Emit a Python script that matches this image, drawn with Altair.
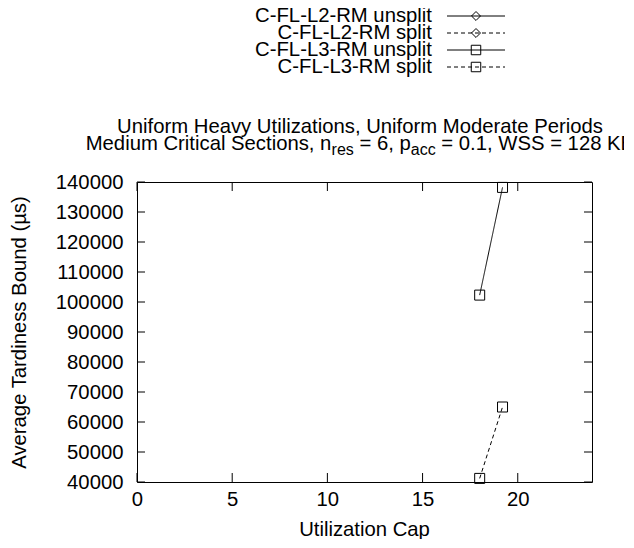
import altair as alt
import pandas as pd

# ---------------- data ----------------
series_names = ["C-FL-L2-RM unsplit", "C-FL-L2-RM split", "C-FL-L3-RM unsplit", "C-FL-L3-RM split"]
series_shapes = ["diamond", "diamond", "square", "square"]
series_dashes = [[1, 0], [4, 3], [1, 0], [4, 3]]

cap_l2 = []
l2_unsplit = []
l2_split = []
cap_l3 = [18.0, 19.2]
l3_unsplit = [102300, 138200]
l3_split = [41200, 65000]

x_ticks = [0, 5, 10, 15, 20]
y_ticks = [40000, 50000, 60000, 70000, 80000, 90000, 100000, 110000, 120000, 130000, 140000]

title_line1 = "Uniform Heavy Utilizations, Uniform Moderate Periods"
title_line2_parts = [("Medium Critical Sections, n", False), ("res", True), (" = 6, p", False),
                     ("acc", True), (" = 0.1, WSS = 128 KB", False)]

# ---------------- layout / style ----------------
W, H = 455, 300
FONT = "Liberation Sans, Arial, Helvetica, sans-serif"
FS = 20.3
SUB_FS = 16

rows = []
for name, caps, vals in [(series_names[0], cap_l2, l2_unsplit), (series_names[1], cap_l2, l2_split),
                         (series_names[2], cap_l3, l3_unsplit), (series_names[3], cap_l3, l3_split)]:
    for c, v in zip(caps, vals):
        rows.append({"series": name, "cap": c, "bound": v})
df = pd.DataFrame(rows)

x_scale = alt.Scale(domain=[0, 23.9], nice=False, zero=False)
y_scale = alt.Scale(domain=[40000, 140000], nice=False, zero=False)
x_axis = alt.Axis(values=x_ticks, ticks=False, domain=False, grid=False, labelPadding=7, format="d",
                  title="Utilization Cap", titleX=227, titleY=47, titleBaseline="middle",
                  titleAlign="center", labelFlush=False)
y_axis = alt.Axis(values=y_ticks, ticks=False, domain=False, grid=False, labelPadding=14, format="d",
                  title="Average Tardiness Bound (µs)", titleX=-118, titleY=150, titleAngle=270,
                  titleBaseline="middle", titleAlign="center", labelFlush=False)


def X(field="cap"):
    return alt.X(f"{field}:Q", scale=x_scale, axis=x_axis)


def Y(field="bound"):
    return alt.Y(f"{field}:Q", scale=y_scale, axis=y_axis)


dash_scale = alt.Scale(domain=series_names, range=series_dashes)
shape_scale = alt.Scale(domain=series_names, range=series_shapes)

lines = alt.Chart(df).mark_line(color="black", strokeWidth=1).encode(
    x=X(), y=Y(),
    strokeDash=alt.StrokeDash("series:N", scale=dash_scale, legend=None),
    detail="series:N",
)
points = alt.Chart(df).mark_point(filled=False, color="black", size=100, strokeWidth=1, opacity=1).encode(
    x=X(), y=Y(),
    shape=alt.Shape("series:N", scale=shape_scale, legend=None),
)

ydf = pd.DataFrame({"bound": y_ticks})
xdf = pd.DataFrame({"cap": x_ticks})
tick_l = alt.Chart(ydf).mark_rule(color="black", strokeWidth=1).encode(y=Y(), x=alt.value(0), x2=alt.value(8))
tick_r = alt.Chart(ydf).mark_rule(color="black", strokeWidth=1).encode(y=Y(), x=alt.value(W - 8), x2=alt.value(W))
tick_b = alt.Chart(xdf).mark_rule(color="black", strokeWidth=1).encode(x=X(), y=alt.value(H - 9), y2=alt.value(H))
tick_t = alt.Chart(xdf).mark_rule(color="black", strokeWidth=1).encode(x=X(), y=alt.value(0), y2=alt.value(9))

layers = [tick_l, tick_r, tick_b, tick_t, lines, points]

# ---------------- legend (drawn above plot) ----------------
leg_text_x = 295
leg_line_x1, leg_line_x2, leg_mark_x = 310, 368, 339
leg_y0, leg_dy = -166, 17
for i, name in enumerate(series_names):
    yy = leg_y0 + i * leg_dy
    one = pd.DataFrame({"t": [name]})
    layers.append(alt.Chart(one).mark_text(align="right", baseline="middle", font=FONT, fontSize=FS,
                                           color="black").encode(x=alt.value(leg_text_x), y=alt.value(yy), text="t:N"))
    layers.append(alt.Chart(one).mark_rule(color="black", strokeWidth=1, strokeDash=series_dashes[i]).encode(
        x=alt.value(leg_line_x1), x2=alt.value(leg_line_x2), y=alt.value(yy)))
    layers.append(alt.Chart(one).mark_point(filled=False, stroke="black", size=90 if series_shapes[i] == "square" else 80,
                                            strokeWidth=1, opacity=1, shape=series_shapes[i]).encode(
        x=alt.value(leg_mark_x), y=alt.value(yy)))

# ---------------- title ----------------
title_cx = 223
t1_y, t2_y = -55, -38
layers.append(alt.Chart(pd.DataFrame({"t": [title_line1]})).mark_text(
    align="center", baseline="middle", font=FONT, fontSize=FS, color="black").encode(
    x=alt.value(title_cx), y=alt.value(t1_y), text="t:N"))

AW = {'M': 833, 'e': 556, 'd': 556, 'i': 222, 'u': 556, 'm': 833, ' ': 278, 'C': 722, 'r': 333, 't': 278,
      'c': 500, 'a': 556, 'l': 222, 'S': 667, 'o': 556, 'n': 556, 's': 500, ',': 278, '=': 584, '6': 556,
      'p': 556, '0': 556, '.': 278, '1': 556, 'W': 944, '2': 556, '8': 556, 'K': 667, 'B': 667}


def text_w(s, size):
    return sum(AW.get(ch, 556) for ch in s) / 1000.0 * size


total = sum(text_w(s, SUB_FS if sub else FS) for s, sub in title_line2_parts)
cur = title_cx - total / 2
for s, sub in title_line2_parts:
    size = SUB_FS if sub else FS
    stripped = s.lstrip(" ")
    lead = text_w(s[: len(s) - len(stripped)], size)
    layers.append(alt.Chart(pd.DataFrame({"t": [stripped]})).mark_text(
        align="left", baseline="middle", font=FONT, fontSize=size, color="black").encode(
        x=alt.value(cur + lead), y=alt.value(t2_y + (6 if sub else 0)), text="t:N"))
    cur += text_w(s, size)

chart = alt.layer(*layers).properties(
    width=W, height=H,
    autosize=alt.AutoSizeParams(type="none"),
    padding={"left": 129, "top": 174, "right": 32, "bottom": 57},
).configure_view(stroke="black", strokeWidth=1).configure_axis(
    labelFont=FONT, labelFontSize=FS, labelColor="black",
    titleFont=FONT, titleFontSize=FS, titleFontWeight="normal", titleColor="black",
)

chart.save("out.html", embed_options={"renderer": "svg", "actions": False})
